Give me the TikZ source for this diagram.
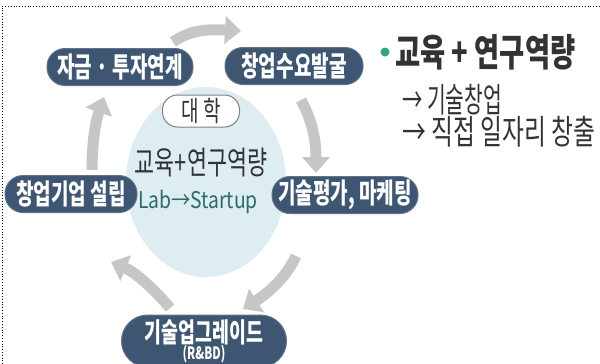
\documentclass[tikz,border=0pt]{standalone}
\usepackage{fontspec}
\newfontfamily\krN{Noto Sans CJK KR}[FakeStretch=0.68]
\newfontfamily\krM{Noto Sans CJK KR}[FakeStretch=0.84]
\newfontfamily\krL{Noto Sans CJK KR}[FakeStretch=0.6]
\newfontfamily\krW{Noto Sans CJK KR}[FakeStretch=0.7]
\newfontfamily\krT{Noto Sans CJK KR}[FakeStretch=0.72]
\usetikzlibrary{arrows.meta}
\definecolor{nodeblue}{HTML}{3E5671}
\definecolor{nodeedge}{HTML}{5F7389}
\definecolor{arrowgray}{HTML}{C6C6C6}
\definecolor{ellfill}{HTML}{DDEDF1}
\definecolor{teal}{HTML}{2B6B6C}
\definecolor{bullet}{HTML}{2FA585}
\definecolor{darktext}{HTML}{333333}
\tikzset{
  stepbox/.style={rectangle, rounded corners=18pt, fill=nodeblue, draw=nodeedge, line width=1pt,
    text=white, font=\krN\bfseries\fontsize{28}{29}\selectfont, inner sep=0pt, minimum height=37pt},
  cyclearrow/.style={draw=arrowgray, line width=11pt, -{Triangle[width=27pt,length=16pt]}},
  sidetext/.style={anchor=west, inner sep=0pt, text=darktext}
}
\begin{document}
\begin{tikzpicture}[x=1pt,y=-1pt]
\useasboundingbox (0,0) rectangle (600,364);
% dotted frame
\draw[dotted, line width=0.8pt] (2,364) -- (2,6) -- (600,6);
% central ellipse
\fill[ellfill] (206,182) ellipse [x radius=80, y radius=95];
% nodes
\node[stepbox, minimum width=146pt] (fund) at (120,67) {자금 · 투자연계};
\node[stepbox, minimum width=138pt] (demand) at (294,66) {창업수요발굴};
\node[stepbox, minimum width=146pt] (eval) at (345,195) {기술평가, 마케팅};
\node[stepbox, minimum width=132pt] (found) at (71,194) {창업기업 설립};
\node[stepbox, minimum width=165pt, minimum height=52pt, rounded corners=26pt, align=center,
  font=\krN\bfseries\fontsize{27}{20}\selectfont] (upgrade) at (204,341)
  {기술업그레이드\\[-3pt]{\fontsize{17}{17}\selectfont (R\&BD)}};
% university
\node[rectangle, rounded corners=15pt, fill=white, draw=gray, line width=1pt, minimum width=77pt, minimum height=32pt,
  inner sep=0pt, text=darktext, font=\krN\fontsize{28}{29}\selectfont] (univ) at (201,111) {대 학};
\node[inner sep=0pt, text=darktext, font=\krN\fontsize{32}{33}\selectfont] (capa) at (201,163) {교육+연구역량};
\node[inner sep=0pt, text=teal, font=\krM\fontsize{23}{24}\selectfont] (lab) at (198,202) {Lab→Startup};
% cycle arrows
\coordinate (a1s) at (173,42); \coordinate (a1e) at (241,31);
\coordinate (a2s) at (301,100); \coordinate (a2e) at (316,173);
\coordinate (a3s) at (296,256); \coordinate (a3e) at (243,309);
\coordinate (a4s) at (170,308); \coordinate (a4e) at (111,262);
\coordinate (a5s) at (92,170); \coordinate (a5e) at (104,97);
\draw[cyclearrow] (a1s) .. controls (190,30) and (208,29) .. (a1e);
\draw[cyclearrow] (a2s) .. controls (312,120) and (316,140) .. (a2e);
\draw[cyclearrow] (a3s) .. controls (285,280) and (265,295) .. (a3e);
\draw[cyclearrow] (a4s) .. controls (155,290) and (135,272) .. (a4e);
\draw[cyclearrow] (a5s) .. controls (92,140) and (96,120) .. (a5e);
% right side text
\fill[bullet] (385,52) circle (4.5);
\node[sidetext, font=\krT\bfseries\fontsize{38}{40}\selectfont] (title) at (395,52) {교육 + 연구역량};
\node[sidetext, font=\krL\fontsize{34}{36}\selectfont] (l1) at (402,100) {→ 기술창업};
\node[sidetext, font=\krW\fontsize{34}{36}\selectfont] (l2) at (402,132) {→ 직접 일자리 창출};
\end{tikzpicture}
\end{document}
